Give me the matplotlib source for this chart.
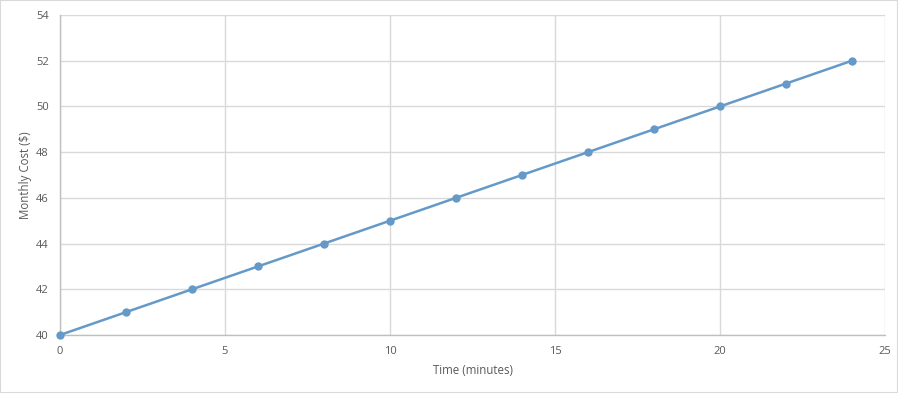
import matplotlib
matplotlib.use("Agg")
import matplotlib.pyplot as plt
from matplotlib.patches import Rectangle

time_minutes = [0, 2, 4, 6, 8, 10, 12, 14, 16, 18, 20, 22, 24]
monthly_cost = [40, 41, 42, 43, 44, 45, 46, 47, 48, 49, 50, 51, 52]
x_ticks = [0, 5, 10, 15, 20, 25]
y_ticks = [40, 42, 44, 46, 48, 50, 52, 54]

plt.rcParams['font.family'] = ['Open Sans', 'DejaVu Sans']

fig = plt.figure(figsize=(8.98, 3.93), dpi=100)
fig.patches.append(Rectangle((0, 0), 1, 1, transform=fig.transFigure, fill=False,
                             edgecolor='#D9D9D9', linewidth=1.5))
ax = fig.add_axes([60/898, (393-335)/393, 825/898, 320/393])

ax.plot(time_minutes, monthly_cost, color='#6499C8', linewidth=1.8, marker='o',
        markersize=5, zorder=3, clip_on=False)

ax.set_xlim(0, 25)
ax.set_ylim(40, 54)
ax.set_xticks(x_ticks)
ax.set_yticks(y_ticks)
ax.grid(True, color='#D9D9D9', linewidth=1)
ax.set_axisbelow(True)
for s in ['top', 'right']:
    ax.spines[s].set_visible(False)
for s in ['left', 'bottom']:
    ax.spines[s].set_color('#BFBFBF')
    ax.spines[s].set_linewidth(1)
ax.tick_params(length=0, labelsize=8, colors='#595959', pad=8)
ax.set_xlabel('Time (minutes)', fontsize=8.3, color='#595959', labelpad=5)
ax.set_ylabel('Monthly Cost ($)', fontsize=8.3, color='#595959', labelpad=3)

fig.savefig('out.png', dpi=100)
